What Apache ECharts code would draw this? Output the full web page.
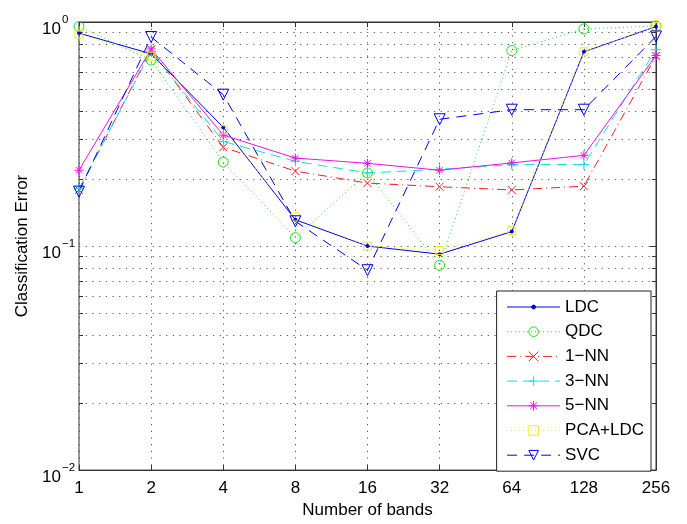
<!DOCTYPE html>
<html>
<head>
<meta charset="utf-8">
<script src="https://cdn.jsdelivr.net/npm/echarts@6/dist/echarts.min.js"></script>
<style>
html,body{margin:0;padding:0;background:#fff;}
#chart{width:687px;height:524px;}
</style>
</head>
<body>
<div id="chart"></div>
<script>
// ---- data ----
const bands = ['1', '2', '4', '8', '16', '32', '64', '128', '256'];
const LDC   = [0.892, 0.721, 0.339, 0.131, 0.100, 0.092, 0.116, 0.736, 0.954];
const QDC   = [0.954, 0.676, 0.237, 0.109, 0.212, 0.082, 0.746, 0.931, 0.960];
const NN1   = [0.178, 0.753, 0.276, 0.216, 0.191, 0.184, 0.178, 0.185, 0.704];
const NN3   = [0.180, 0.740, 0.293, 0.239, 0.212, 0.220, 0.231, 0.231, 0.753];
const NN5   = [0.218, 0.758, 0.313, 0.247, 0.234, 0.218, 0.235, 0.254, 0.709];
const PCALDC= [0.883, 0.704, 0.330, 0.135, 0.100, 0.0956, 0.117, 0.736, 0.955];
const SVC   = [0.175, 0.857, 0.474, 0.129, 0.078, 0.368, 0.406, 0.406, 0.862];
const minorTicks = [0.02,0.03,0.04,0.05,0.06,0.07,0.08,0.09,0.2,0.3,0.4,0.5,0.6,0.7,0.8,0.9];
const seriesNames = ['LDC','QDC','1\u2212NN','3\u2212NN','5\u2212NN','PCA+LDC','SVC'];

const FONT = '"Liberation Sans", Arial, Helvetica, sans-serif';
const gridColor = '#555';
const boxColor = '#333';

const sym = {
  dot: 'path://M0,0M10,10M5,3A2,2 0 1,1 4.999,3Z',
  x: 'path://M0,0L10,10M10,0L0,10',
  plus: 'path://M5,0L5,10M0,5L10,5',
  star: 'path://M5,0L5,10M0,5L10,5M1.5,1.5L8.5,8.5M8.5,1.5L1.5,8.5'
};

function mk(name, data, color, dash, symbol, size, extra) {
  return Object.assign({
    name: name,
    type: 'line',
    data: data,
    symbol: symbol,
    symbolSize: size,
    showAllSymbol: true,
    lineStyle: { color: color, width: 1, type: dash },
    itemStyle: { color: 'rgba(0,0,0,0)', borderColor: color, borderWidth: 1 },
    emphasis: { disabled: true },
    animation: false,
    z: 3
  }, extra || {});
}

const series = [
  {
    name: 'minor',
    type: 'custom',
    coordinateSystem: 'cartesian2d',
    data: minorTicks.map(v => [0, v]),
    encode: { x: 0, y: 1 },
    z: 1,
    silent: true,
    animation: false,
    renderItem: function (params, api) {
      const p = api.coord([0, api.value(1)]);
      const cs = params.coordSys;
      const y = Math.round(p[1]) + 0.5;
      return {
        type: 'group',
        children: [
          { type: 'line', shape: { x1: cs.x, y1: y, x2: cs.x + cs.width, y2: y },
            style: { stroke: gridColor, lineWidth: 1, lineDash: [1.2, 5.5] } },
          { type: 'line', shape: { x1: cs.x, y1: y, x2: cs.x + 4, y2: y },
            style: { stroke: boxColor, lineWidth: 1 } },
          { type: 'line', shape: { x1: cs.x + cs.width - 4, y1: y, x2: cs.x + cs.width, y2: y },
            style: { stroke: boxColor, lineWidth: 1 } }
        ]
      };
    }
  },
  mk(seriesNames[0], LDC, '#0000ee', 'solid', sym.dot, 10,
     { itemStyle: { color: '#0000ee', borderColor: '#0000ee', borderWidth: 0 } }),
  mk(seriesNames[1], QDC, '#22dd22', [1, 3], 'circle', 10),
  mk(seriesNames[2], NN1, '#ee2222', [9, 4, 1, 4], sym.x, 8),
  mk(seriesNames[3], NN3, '#11dddd', [10, 6], sym.plus, 10),
  mk(seriesNames[4], NN5, '#ee11ee', 'solid', sym.star, 9),
  mk(seriesNames[5], PCALDC, '#eeee11', [1, 3], 'rect', 8),
  mk(seriesNames[6], SVC, '#0000ee', [10, 7], 'triangle', 11, { symbolRotate: 180 })
];

const chart = echarts.init(document.getElementById('chart'), null, { renderer: 'canvas' });
chart.setOption({
  backgroundColor: '#fff',
  animation: false,
  textStyle: { fontFamily: FONT },
  grid: { left: 79, right: 31, top: 22, bottom: 47, show: true, borderColor: boxColor, borderWidth: 1, backgroundColor: 'transparent' },
  legend: {
    data: seriesNames,
    orient: 'vertical',
    right: 36,
    top: 291,
    padding: [7, 7, 7, 10],
    itemWidth: 53,
    itemHeight: 12,
    itemGap: 6.7,
    backgroundColor: '#fff',
    borderColor: '#222',
    borderWidth: 1,
    borderRadius: 0,
    selectedMode: false,
    lineStyle: { width: 1 },
    itemStyle: { borderWidth: 1 },
    textStyle: { fontFamily: FONT, fontSize: 17, color: '#000', lineHeight: 18 }
  },
  xAxis: [
    {
      type: 'category',
      data: bands,
      boundaryGap: false,
      position: 'bottom',
      name: 'Number of bands',
      nameLocation: 'middle',
      nameGap: 28,
      nameTextStyle: { fontFamily: FONT, fontSize: 17, color: '#000' },
      axisLine: { lineStyle: { color: boxColor, width: 1 } },
      axisTick: { inside: true, length: 5, alignWithLabel: true, lineStyle: { color: boxColor } },
      axisLabel: { fontFamily: FONT, fontSize: 17, color: '#000', margin: 10, interval: 0 },
      splitLine: { show: true, interval: 0, lineStyle: { color: gridColor, type: [1.2, 5.5], width: 1 } }
    },
    {
      type: 'category',
      data: bands,
      boundaryGap: false,
      position: 'top',
      axisLine: { lineStyle: { color: boxColor, width: 1 } },
      axisTick: { inside: true, length: 5, interval: 0, lineStyle: { color: boxColor } },
      axisLabel: { show: false },
      splitLine: { show: false }
    }
  ],
  yAxis: [
    {
      type: 'log',
      logBase: 10,
      min: 0.01,
      max: 1,
      position: 'left',
      name: 'Classification Error',
      nameLocation: 'middle',
      nameGap: 42,
      nameTextStyle: { fontFamily: FONT, fontSize: 17, color: '#000' },
      axisLine: { lineStyle: { color: boxColor, width: 1 } },
      axisTick: { inside: true, length: 6, lineStyle: { color: boxColor } },
      axisLabel: {
        align: 'left',
        margin: 37,
        padding: [8, 0, 0, 0],
        formatter: function (v) {
          const e = Math.round(Math.log10(v));
          return '{b|10}{s|' + (e < 0 ? '\u2212' + (-e) : e) + '}';
        },
        rich: {
          b: { fontFamily: FONT, fontSize: 17, color: '#000', verticalAlign: 'bottom' },
          s: { fontFamily: FONT, fontSize: 11.5, color: '#000', verticalAlign: 'bottom', padding: [0, 0, 12, 1] }
        }
      },
      splitLine: { show: true, lineStyle: { color: gridColor, type: [1.2, 5.5], width: 1 } }
    },
    {
      type: 'log',
      logBase: 10,
      min: 0.01,
      max: 1,
      position: 'right',
      axisLine: { show: true, lineStyle: { color: boxColor, width: 1 } },
      axisTick: { show: true, inside: true, length: 6, lineStyle: { color: boxColor } },
      axisLabel: { show: false },
      splitLine: { show: false }
    }
  ],
  series: series
});
</script>
</body>
</html>
